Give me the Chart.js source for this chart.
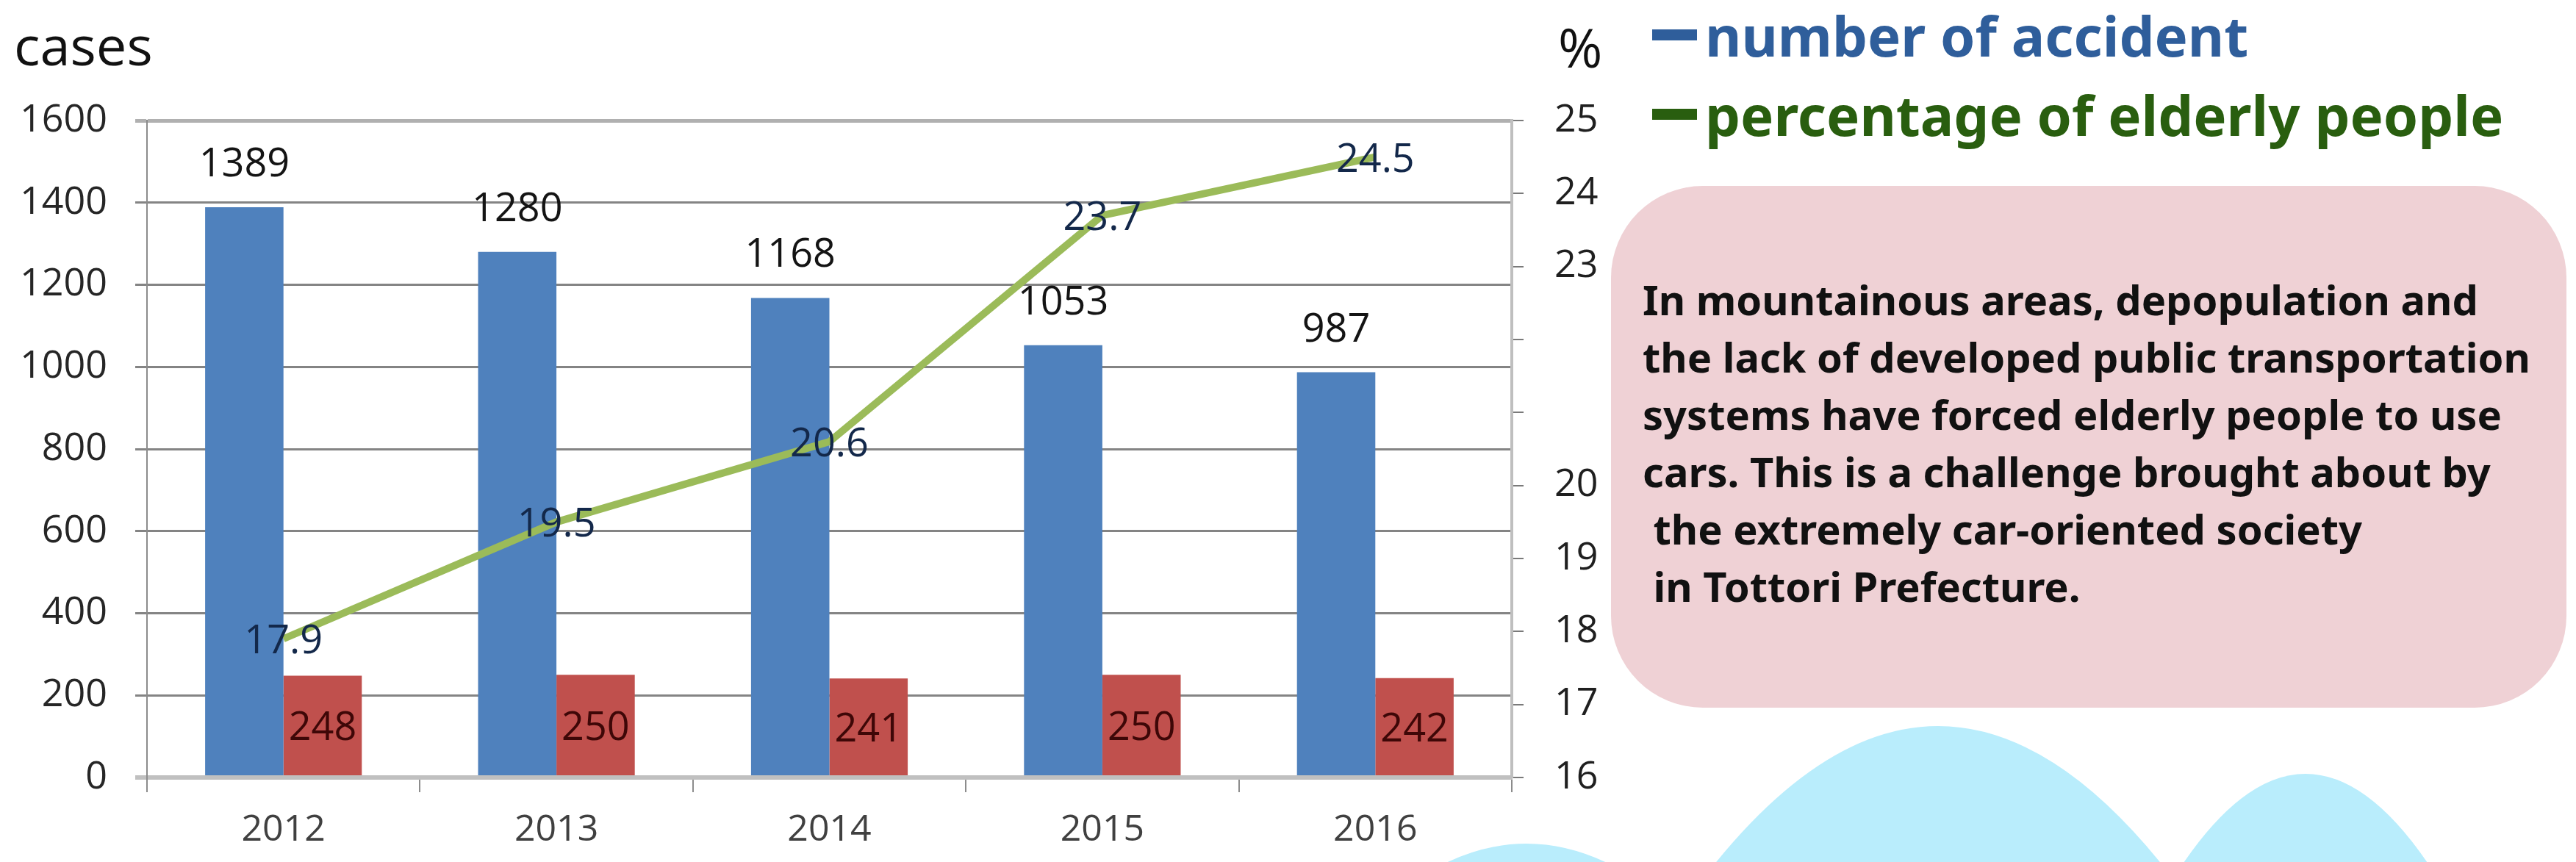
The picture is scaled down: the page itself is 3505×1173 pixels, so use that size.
<!DOCTYPE html>
<html>
<head>
<meta charset="utf-8">
<script src="https://cdn.jsdelivr.net/npm/chart.js@4.4.1/dist/chart.umd.min.js"></script>
<style>
  html, body { margin: 0; padding: 0; background: #fff; }
  body { position: relative; width: 3505px; height: 1173px; overflow: hidden; }
  #chartBox { position: absolute; left: 0; top: 0; width: 2200px; height: 1173px; z-index: 2; }
  .lbl { position: absolute; white-space: pre; line-height: 1; }
  #cases { left: 19px; top: 10px; font: 74px "Open Sans", sans-serif; color: #111; }
  #pct { left: 2120px; top: 14px; font: 73px "Open Sans", sans-serif; color: #111; }
  .leg { position: absolute; left: 2320px; font: bold 76px "Noto Sans", sans-serif; line-height: 1; white-space: pre; z-index: 3; }
  .dash { position: absolute; left: 2248px; width: 61px; height: 15px; }
  #note {
    position: absolute; left: 2192px; top: 253px; width: 1300px; height: 710px;
    background: #efd1d5; border-radius: 125px; z-index: 1;
  }
  #noteText {
    position: absolute; left: 2235px; top: 368px; z-index: 3;
    font: bold 56px "Noto Sans", sans-serif; line-height: 78px; color: #111; white-space: pre;
  }
  #clouds { position: absolute; left: 0; top: 0; z-index: 0; }
</style>
</head>
<body>
<svg id="clouds" width="3505" height="1173">
  <path d="M 2271 1260 Q 2637 716 3003 1260 Z" fill="#b9edfc"/>
  <path d="M 2920 1260 Q 3137 846 3354 1260 Z" fill="#b9edfc"/>
  <path d="M 1850 1260 Q 2077 1036 2304 1260 Z" fill="#b9edfc"/>
</svg>

<div id="cases" class="lbl">cases</div>
<div id="pct" class="lbl">%</div>

<div class="dash" style="top:40px;background:#2f5e9b"></div>
<div class="leg" style="top:10px;color:#2f5e9b">number of accident</div>
<div class="dash" style="top:148px;background:#295e0f"></div>
<div class="leg" style="top:118px;color:#295e0f">percentage of elderly people</div>

<div id="note"></div>
<div id="noteText">In mountainous areas, depopulation and
the lack of developed public transportation
systems have forced elderly people to use
cars. This is a challenge brought about by
 the extremely car-oriented society
 in Tottori Prefecture.</div>

<div id="chartBox"><canvas id="myChart"></canvas></div>

<script>
const years = ["2012", "2013", "2014", "2015", "2016"];
const accidents = [1389, 1280, 1168, 1053, 987];
const elderlyAccidents = [248, 250, 241, 250, 242];
const elderlyPercent = [17.9, 19.5, 20.6, 23.7, 24.5];
// right axis labels that actually show in the picture (21 and 22 are blank)
const percentTickLabels = [16, 17, 18, 19, 20, 23, 24, 25];

const FONT = "Open Sans";

// draws the numbers on bars and line points
const valueLabels = {
  id: "valueLabels",
  afterDatasetsDraw(chart) {
    const ctx = chart.ctx;
    ctx.save();
    ctx.textAlign = "center";
    ctx.textBaseline = "alphabetic";
    ctx.font = `54px "${FONT}"`;
    chart.data.datasets.forEach((ds, di) => {
      const meta = chart.getDatasetMeta(di);
      meta.data.forEach((el, i) => {
        const p = el.getProps(["x", "y", "base"], true);
        let cy;
        if (ds.kind === "total") {
          cy = p.y - 62;
          ctx.fillStyle = "#141414";
        } else if (ds.kind === "elderly") {
          cy = (p.y + p.base) / 2;
          ctx.fillStyle = "#3e0707";
        } else {
          cy = p.y;
          ctx.fillStyle = "#13284a";
        }
        ctx.fillText(String(ds.data[i]), p.x, cy + 20);
      });
    });
    ctx.restore();
  },
};

const ctx = document.getElementById("myChart").getContext("2d");
new Chart(ctx, {
  type: "bar",
  data: {
    labels: years,
    datasets: [
      {
        type: "line",
        kind: "pct",
        label: "percentage of elderly people",
        data: elderlyPercent,
        yAxisID: "y1",
        borderColor: "#9bbb59",
        borderWidth: 10,
        pointRadius: 0,
        tension: 0,
        fill: false,
        order: 0,
      },
      {
        kind: "total",
        label: "number of accident",
        data: accidents,
        backgroundColor: "#4f81bd",
        yAxisID: "y",
        order: 1,
      },
      {
        kind: "elderly",
        label: "accidents by elderly drivers",
        data: elderlyAccidents,
        backgroundColor: "#c0504d",
        yAxisID: "y",
        order: 1,
      },
    ],
  },
  options: {
    responsive: true,
    maintainAspectRatio: false,
    animation: false,
    categoryPercentage: 0.574,
    barPercentage: 1.0,
    layout: { padding: { top: 164, left: 0, right: 0, bottom: 0 } },
    plugins: {
      legend: { display: false },
      tooltip: { enabled: false },
    },
    scales: {
      x: {
        grid: {
          offset: true,
          drawOnChartArea: false,
          drawTicks: true,
          tickLength: 20,
          color: "#8c8c8c",
          lineWidth: 2,
        },
        border: { display: true, color: "#c0c0c0", width: 6 },
        ticks: {
          font: { family: FONT, size: 50 },
          color: "#404040",
          padding: 22,
        },
        afterFit: (s) => { s.height = 115; },
      },
      y: {
        position: "left",
        min: 0,
        max: 1600,
        ticks: {
          stepSize: 200,
          font: { family: FONT, size: 52 },
          color: "#262626",
          padding: 38,
          callback: (v) => String(v),
        },
        grid: {
          tickLength: 16,
          color: (c) => (c.tick && c.tick.value === 0 ? "#c0c0c0" : c.tick && c.tick.value === 1600 ? "#b0b0b0" : "#848484"),
          lineWidth: (c) => (c.tick && c.tick.value === 0 ? 6 : c.tick && c.tick.value === 1600 ? 5 : 3),
        },
        border: { display: true, color: "#8c8c8c", width: 2 },
        afterFit: (s) => { s.width = 200; },
      },
      y1: {
        position: "right",
        min: 16,
        max: 25,
        ticks: {
          stepSize: 1,
          font: { family: FONT, size: 52 },
          color: "#1f1f1f",
          padding: 42,
          callback: (v) => (percentTickLabels.includes(v) ? String(v) : ""),
        },
        grid: {
          drawOnChartArea: false,
          tickLength: 16,
          color: "#7a7a7a",
          lineWidth: 2,
        },
        border: { display: true, color: "#bfbfbf", width: 4 },
        afterFit: (s) => { s.width = 143; },
      },
    },
  },
  plugins: [valueLabels],
});
</script>
</body>
</html>
